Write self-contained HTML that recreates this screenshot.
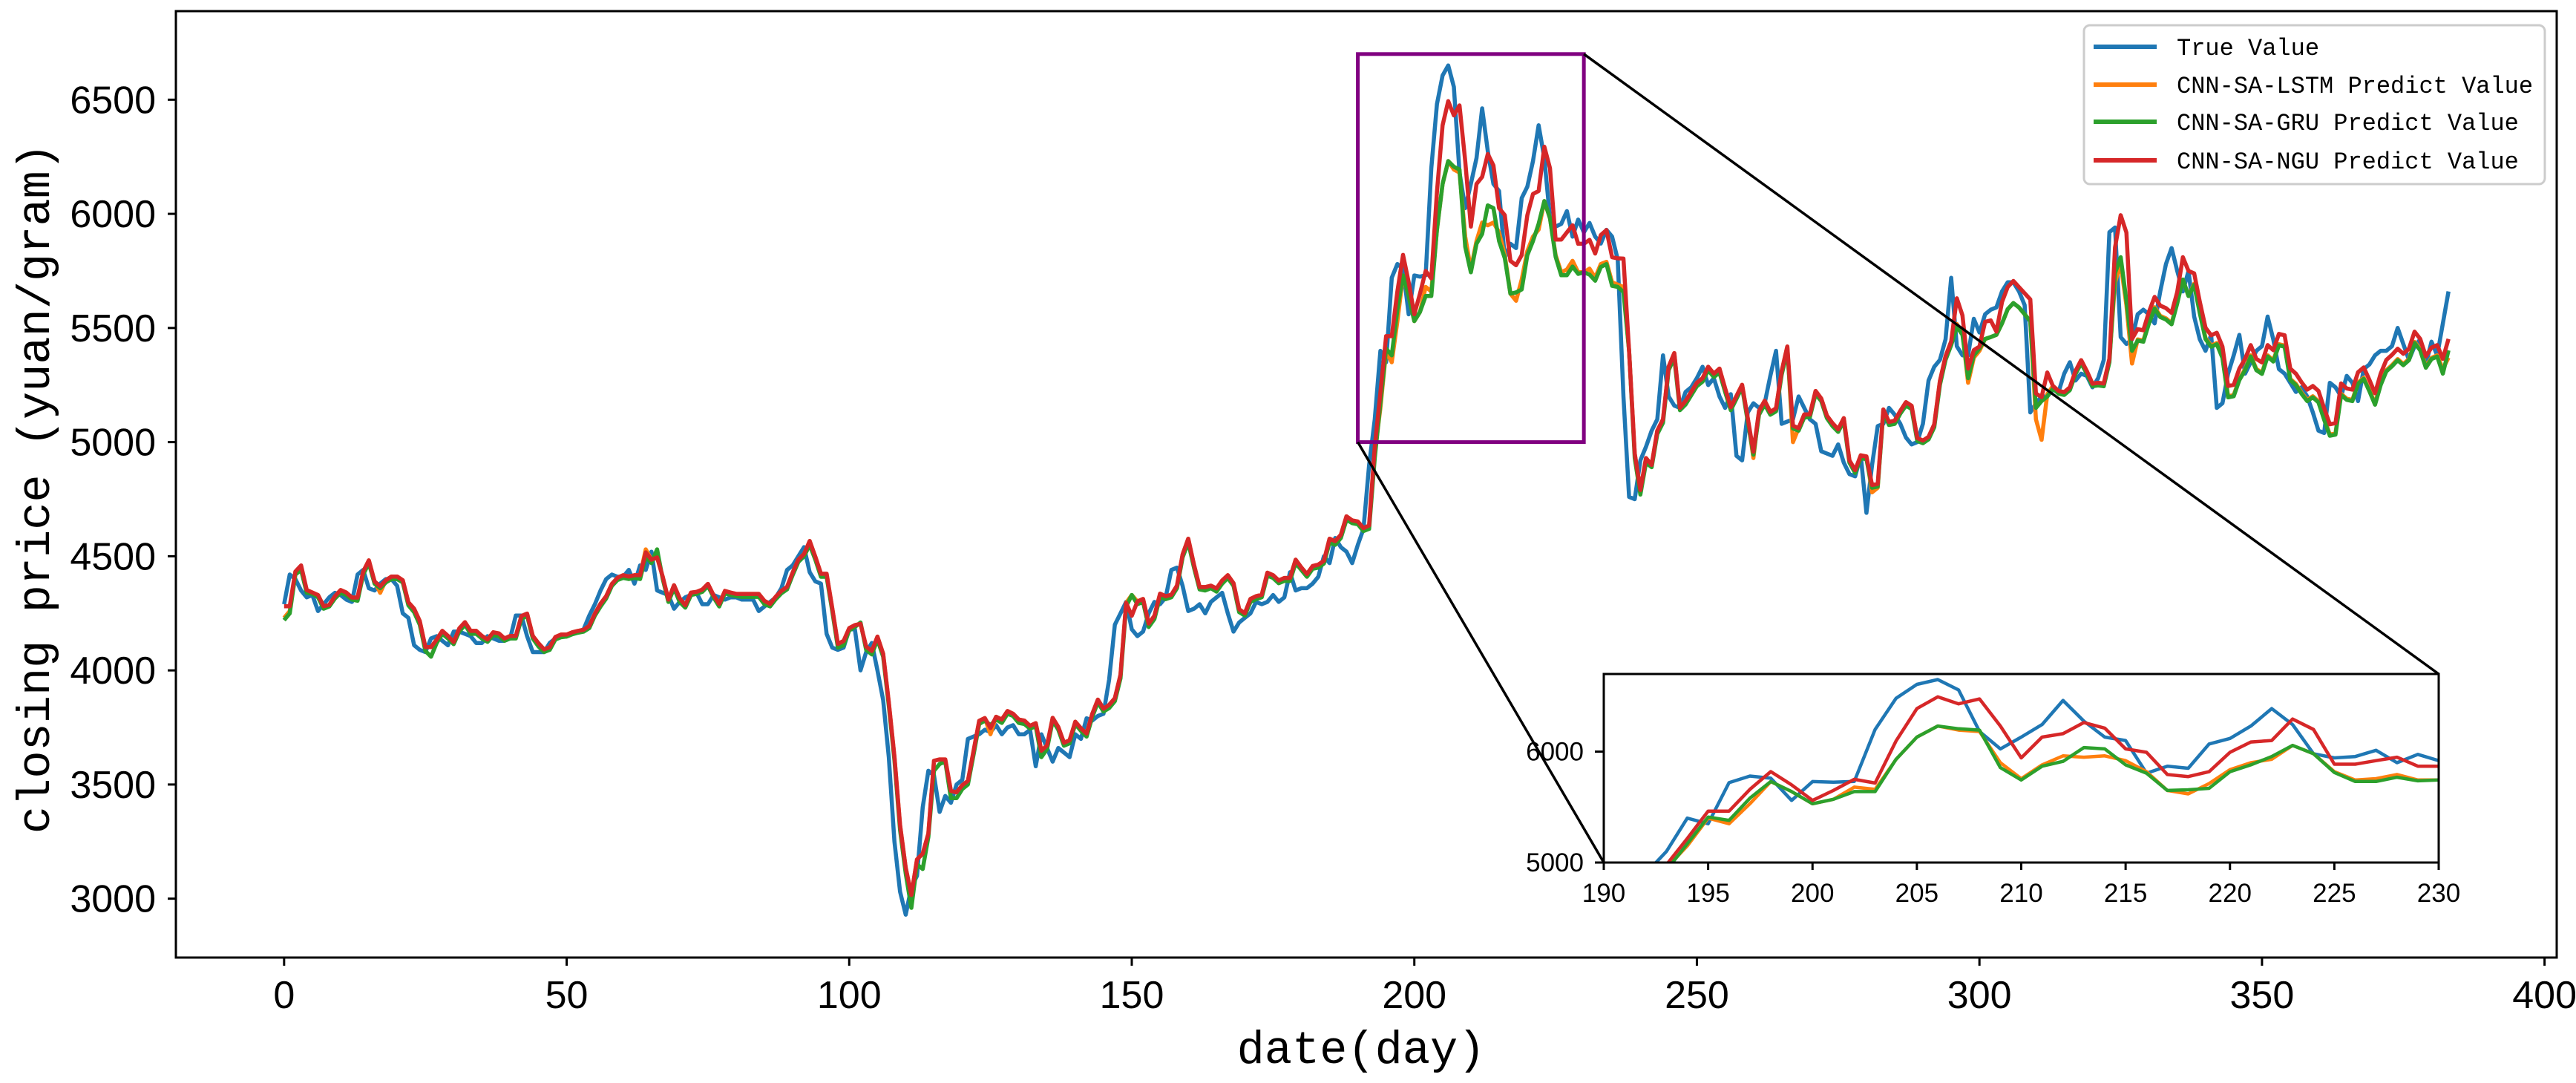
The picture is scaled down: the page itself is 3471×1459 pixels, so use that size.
<!DOCTYPE html>
<html><head><meta charset="utf-8"><style>
html,body{margin:0;padding:0;background:#fff;}
svg{display:block;}
text{font-family:"Liberation Sans","DejaVu Sans",sans-serif;fill:#000;}
.mono{font-family:"Liberation Mono","DejaVu Sans Mono",monospace;}
</style></head><body>
<svg id="chart" xmlns="http://www.w3.org/2000/svg" width="3471" height="1459" viewBox="0 0 3471 1459">
<rect x="0" y="0" width="3471" height="1459" fill="#fff"/>
<defs><clipPath id="mainClip"><rect x="237" y="15" width="3208" height="1275"/></clipPath>
<clipPath id="insetClip"><rect x="2161" y="908" width="1125" height="254"/></clipPath></defs>
<g id="mainSeries" clip-path="url(#mainClip)"></g>
<g id="overlay"></g>
<rect x="2161" y="908" width="1125" height="254" fill="#fff"/>
<g id="insetSeries" clip-path="url(#insetClip)"></g>
<rect x="2161" y="908" width="1125" height="254" fill="none" stroke="#000" stroke-width="3"/>
<g id="axes"></g>
<rect x="237" y="15" width="3208" height="1275" fill="none" stroke="#000" stroke-width="3"/>
<text class="mono" x="0" y="0" font-size="62" text-anchor="middle" transform="translate(66,658) rotate(-90)">closing price (yuan/gram)</text>
<text class="mono" x="1834" y="1432" font-size="62" text-anchor="middle">date(day)</text>
<g>
<rect x="2808" y="34" width="621" height="214" rx="8" fill="#fff" stroke="#cccccc" stroke-width="3"/>
<line x1="2821" y1="63" x2="2906" y2="63" stroke="#1f77b4" stroke-width="6"/>
<text class="mono" x="2933" y="74" font-size="32">True Value</text>
<line x1="2821" y1="114" x2="2906" y2="114" stroke="#ff7f0e" stroke-width="6"/>
<text class="mono" x="2933" y="125" font-size="32">CNN-SA-LSTM Predict Value</text>
<line x1="2821" y1="164" x2="2906" y2="164" stroke="#2ca02c" stroke-width="6"/>
<text class="mono" x="2933" y="175" font-size="32">CNN-SA-GRU Predict Value</text>
<line x1="2821" y1="216" x2="2906" y2="216" stroke="#d62728" stroke-width="6"/>
<text class="mono" x="2933" y="227" font-size="32">CNN-SA-NGU Predict Value</text>
</g>
</svg>
<script>
const xTicks=[0,50,100,150,200,250,300,350,400];
const yTicks=[3000,3500,4000,4500,5000,5500,6000,6500];
const insetXTicks=[190,195,200,205,210,215,220,225,230];
const insetYTicks=[5000,6000];
const zoomBox=[190,230,5000,6700];
const trueValue=[4290,4420,4400,4350,4320,4330,4260,4290,4320,4340,4330,4310,4300,4420,4440,4360,4350,4380,4400,4400,4370,4250,4230,4110,4090,4080,4140,4150,4130,4110,4170,4170,4160,4150,4120,4120,4150,4140,4130,4130,4140,4240,4240,4150,4080,4080,4080,4120,4140,4150,4150,4160,4170,4180,4240,4290,4350,4400,4420,4410,4410,4440,4380,4460,4440,4520,4350,4340,4330,4270,4300,4320,4330,4340,4290,4290,4330,4320,4310,4320,4320,4310,4310,4310,4260,4280,4300,4320,4360,4440,4460,4500,4540,4430,4390,4380,4160,4100,4090,4100,4180,4180,4000,4080,4120,4000,3870,3620,3250,3030,2930,3050,3100,3400,3560,3540,3380,3450,3420,3500,3520,3700,3710,3720,3740,3730,3760,3720,3750,3760,3720,3720,3740,3580,3720,3660,3600,3660,3640,3620,3720,3700,3790,3780,3800,3810,3960,4200,4250,4300,4180,4150,4170,4250,4300,4290,4320,4440,4450,4370,4260,4270,4290,4250,4300,4320,4340,4250,4170,4210,4230,4250,4300,4290,4300,4330,4300,4320,4430,4350,4360,4360,4380,4410,4500,4470,4580,4540,4520,4470,4550,4620,4900,5100,5400,5350,5720,5780,5760,5560,5730,5725,5731,6200,6481,6606,6650,6556,6181,6025,6131,6244,6462,6275,6131,6100,5806,5869,5850,6069,6119,6231,6388,6244,5981,5944,5956,6012,5900,5975,5919,5960,5900,5870,5930,5900,5800,5200,4760,4750,4920,4980,5050,5100,5380,5200,5160,5150,5220,5240,5280,5330,5250,5280,5200,5150,5210,4940,4920,5130,5170,5150,5170,5290,5400,5080,5090,5100,5200,5150,5100,5080,4960,4950,4940,4990,4910,4860,4850,4940,4690,4900,5070,5080,5150,5120,5080,5020,4990,5000,5080,5270,5330,5360,5450,5720,5420,5380,5380,5540,5480,5560,5580,5590,5660,5700,5700,5660,5600,5130,5170,5200,5200,5230,5220,5300,5350,5270,5300,5290,5240,5280,5360,5920,5940,5460,5430,5450,5560,5580,5560,5520,5660,5780,5850,5750,5660,5750,5550,5450,5400,5470,5150,5170,5300,5380,5470,5300,5350,5400,5420,5550,5450,5320,5300,5260,5220,5240,5200,5130,5050,5040,5260,5240,5200,5290,5260,5180,5320,5340,5380,5400,5400,5420,5500,5430,5360,5420,5450,5340,5440,5380,5520,5660];
const lstmValue=[4230,4260,4430,4450,4352,4341,4330,4281,4287,4325,4352,4341,4319,4319,4433,4482,4390,4340,4395,4411,4411,4395,4298,4270,4216,4102,4102,4135,4173,4151,4124,4184,4211,4173,4173,4151,4135,4167,4162,4140,4151,4151,4238,4249,4151,4119,4092,4102,4146,4157,4157,4167,4173,4178,4195,4249,4292,4325,4379,4406,4417,4411,4417,4417,4530,4485,4495,4410,4310,4373,4316,4285,4341,4344,4354,4379,4329,4291,4348,4341,4335,4335,4335,4335,4335,4304,4291,4323,4348,4366,4429,4485,4510,4567,4498,4423,4423,4273,4116,4129,4185,4198,4204,4104,4085,4148,4073,3860,3622,3322,3135,3016,3172,3197,3285,3604,3610,3610,3472,3466,3497,3516,3647,3779,3791,3720,3797,3785,3822,3810,3785,3780,3757,3769,3648,3671,3792,3752,3683,3694,3775,3746,3723,3809,3872,3832,3849,3878,3981,4296,4330,4302,4313,4205,4239,4336,4325,4331,4371,4508,4577,4463,4365,4365,4371,4359,4394,4417,4382,4268,4250,4313,4325,4331,4428,4417,4394,4405,4405,4485,4451,4422,4457,4463,4480,4577,4566,4594,4675,4657,4652,4623,4635,4950,5150,5400,5350,5530,5730,5640,5530,5570,5680,5660,5930,6131,6231,6194,6181,5900,5756,5881,5962,5950,5962,5919,5819,5650,5619,5712,5837,5900,5931,6056,5981,5819,5744,5756,5794,5744,5744,5760,5720,5780,5790,5700,5690,5680,5400,4950,4790,4930,4900,5050,5100,5330,5390,5150,5180,5220,5260,5280,5330,5300,5322,5235,5153,5202,5251,5105,4930,5137,5181,5132,5148,5311,5419,5000,5061,5121,5121,5224,5191,5116,5083,5056,5105,4920,4877,4942,4937,4780,4800,5143,5088,5094,5137,5175,5159,5018,5007,5023,5078,5267,5376,5441,5517,5480,5260,5370,5400,5452,5460,5470,5520,5582,5609,5590,5560,5530,5100,5010,5210,5246,5224,5219,5240,5311,5359,5311,5256,5260,5257,5365,5700,5780,5600,5344,5450,5445,5526,5591,5553,5542,5521,5613,5712,5640,5694,5570,5456,5423,5434,5374,5201,5206,5277,5320,5380,5320,5304,5380,5358,5429,5423,5277,5255,5217,5185,5201,5179,5103,5033,5038,5212,5190,5185,5261,5282,5228,5169,5255,5315,5337,5364,5342,5364,5439,5407,5331,5369,5380,5320,5370];
const gruValue=[4220,4250,4420,4440,4340,4335,4320,4270,4280,4315,4340,4330,4310,4305,4420,4470,4380,4360,4385,4400,4400,4385,4285,4255,4200,4085,4060,4120,4160,4140,4115,4170,4200,4160,4160,4140,4125,4155,4150,4130,4140,4140,4225,4240,4140,4105,4080,4090,4135,4145,4148,4158,4165,4170,4185,4240,4280,4315,4370,4396,4405,4400,4405,4400,4500,4470,4530,4400,4300,4360,4300,4275,4330,4335,4344,4370,4320,4280,4338,4330,4325,4322,4322,4322,4322,4290,4280,4312,4338,4355,4418,4475,4500,4550,4485,4410,4410,4260,4100,4110,4175,4190,4210,4090,4070,4135,4060,3845,3605,3300,3110,2960,3150,3130,3270,3560,3590,3600,3440,3440,3480,3500,3630,3765,3780,3760,3785,3770,3810,3800,3770,3765,3745,3755,3620,3655,3780,3740,3670,3680,3765,3735,3710,3795,3860,3820,3835,3865,3965,4280,4330,4290,4300,4190,4225,4322,4312,4320,4360,4495,4560,4450,4355,4350,4360,4345,4380,4405,4370,4255,4240,4300,4312,4320,4415,4405,4382,4392,4392,4470,4440,4410,4445,4450,4468,4560,4550,4580,4660,4645,4640,4610,4620,4930,5170,5410,5380,5580,5730,5640,5530,5570,5640,5640,5931,6131,6231,6206,6194,5856,5744,5869,5912,6037,6025,5881,5806,5650,5656,5669,5819,5881,5956,6056,5981,5812,5731,5731,5769,5737,5744,5734,5707,5767,5780,5685,5680,5658,5400,4930,4770,4910,4890,5035,5085,5315,5370,5140,5165,5205,5245,5265,5315,5285,5305,5220,5140,5190,5240,5090,4945,5120,5165,5120,5135,5295,5400,5060,5050,5108,5110,5210,5180,5105,5070,5045,5092,4910,4865,4930,4925,4800,4805,5130,5075,5080,5125,5160,5145,5005,4995,5012,5065,5250,5360,5425,5506,5470,5280,5380,5410,5452,5460,5470,5520,5582,5609,5590,5560,5530,5150,5180,5200,5235,5212,5207,5228,5298,5345,5300,5245,5248,5245,5350,5740,5810,5620,5400,5445,5440,5520,5585,5548,5537,5516,5608,5712,5640,5689,5565,5451,5418,5429,5369,5196,5201,5272,5315,5375,5315,5299,5375,5353,5424,5418,5272,5250,5212,5180,5196,5174,5098,5028,5033,5207,5185,5180,5256,5277,5223,5164,5250,5310,5332,5359,5337,5359,5434,5402,5326,5364,5375,5300,5402];
const nguValue=[4281,4281,4433,4460,4352,4341,4330,4281,4287,4325,4352,4341,4319,4319,4433,4482,4390,4368,4395,4411,4411,4395,4298,4270,4216,4102,4102,4135,4173,4151,4124,4184,4211,4173,4173,4151,4135,4167,4162,4140,4151,4151,4238,4249,4151,4119,4092,4102,4146,4157,4157,4167,4173,4178,4195,4249,4292,4325,4379,4406,4417,4411,4417,4417,4517,4485,4495,4410,4310,4373,4316,4285,4341,4344,4354,4379,4329,4291,4348,4341,4335,4335,4335,4335,4335,4304,4291,4323,4348,4366,4429,4485,4510,4567,4498,4423,4423,4273,4116,4129,4185,4198,4204,4104,4085,4148,4073,3860,3622,3322,3135,3016,3172,3197,3285,3604,3610,3610,3472,3466,3497,3516,3647,3779,3791,3747,3797,3785,3822,3810,3785,3780,3757,3769,3648,3671,3792,3752,3683,3694,3775,3746,3723,3809,3872,3832,3849,3878,3981,4296,4239,4302,4313,4205,4239,4336,4325,4331,4371,4508,4577,4463,4365,4365,4371,4359,4394,4417,4382,4268,4250,4313,4325,4331,4428,4417,4394,4405,4405,4485,4451,4422,4457,4463,4480,4577,4566,4594,4675,4657,4652,4623,4635,4980,5217,5464,5464,5660,5820,5700,5560,5650,5750,5717,6096,6388,6494,6431,6475,6231,5944,6131,6162,6262,6212,6025,5994,5794,5775,5819,5994,6087,6100,6294,6200,5887,5887,5919,5950,5869,5869,5886,5826,5907,5929,5810,5805,5804,5400,4950,4790,4930,4900,5050,5100,5330,5390,5150,5180,5220,5260,5280,5330,5300,5322,5235,5153,5202,5251,5105,4958,5137,5181,5132,5148,5311,5419,5072,5061,5121,5121,5224,5191,5116,5083,5056,5105,4920,4877,4942,4937,4812,4817,5143,5088,5094,5137,5175,5159,5018,5007,5023,5078,5267,5376,5441,5630,5555,5322,5403,5419,5527,5533,5484,5614,5679,5706,5679,5652,5625,5213,5197,5305,5246,5224,5219,5240,5311,5359,5311,5256,5260,5257,5365,5853,5994,5918,5452,5495,5490,5571,5636,5598,5587,5566,5658,5810,5750,5739,5615,5501,5468,5479,5419,5246,5251,5322,5365,5425,5365,5349,5425,5403,5474,5468,5322,5300,5262,5230,5246,5224,5148,5078,5083,5257,5235,5230,5306,5327,5273,5214,5300,5360,5382,5409,5387,5409,5484,5452,5376,5414,5425,5365,5452];

const NS='http://www.w3.org/2000/svg';
const X0=237,X1=3445,Y0=1290,Y1=15,XMIN=-19.15,XMAX=402.15,YMIN=2742,YMAX=6888;
function xMain(d){return X0+(d-XMIN)/(XMAX-XMIN)*(X1-X0);}
function yMain(v){return Y0-(v-YMIN)/(YMAX-YMIN)*(Y0-Y1);}
const IX0=2161,IX1=3286,IY0=1162,IY1=908;
function xIn(d){return IX0+(d-zoomBox[0])/(zoomBox[1]-zoomBox[0])*(IX1-IX0);}
function yIn(v){return IY0-(v-zoomBox[2])/(zoomBox[3]-zoomBox[2])*(IY0-IY1);}
function mk(tag,attrs,parent){const e=document.createElementNS(NS,tag);for(const k in attrs)e.setAttribute(k,attrs[k]);parent.appendChild(e);return e;}

const seriesList=[[trueValue,'#1f77b4','true-value'],[lstmValue,'#ff7f0e','cnn-sa-lstm'],[gruValue,'#2ca02c','cnn-sa-gru'],[nguValue,'#d62728','cnn-sa-ngu']];
const gMain=document.getElementById('mainSeries');
const gIn=document.getElementById('insetSeries');
seriesList.forEach(s=>{
  const data=s[0];
  const pts=data.map((v,i)=>xMain(i).toFixed(1)+','+yMain(v).toFixed(1)).join(' ');
  const pl=mk('polyline',{points:pts,fill:'none',stroke:s[1],'stroke-width':5.5,'stroke-linejoin':'round'},gMain);
  
  
  const ip=[];
  for(let i=zoomBox[0]-1;i<=zoomBox[1]+1&&i<data.length;i++){ip.push(xIn(i).toFixed(1)+','+yIn(data[i]).toFixed(1));}
  const pl2=mk('polyline',{points:ip.join(' '),fill:'none',stroke:s[1],'stroke-width':4.5,'stroke-linejoin':'round'},gIn);
  
  
});

const ov=document.getElementById('overlay');
const rx0=xMain(zoomBox[0]),rx1=xMain(zoomBox[1]),ry0=yMain(zoomBox[2]),ry1=yMain(zoomBox[3]);
const zr=mk('rect',{x:rx0,y:ry1,width:rx1-rx0,height:ry0-ry1,fill:'none',stroke:'#800080','stroke-width':5},ov);


const c1=mk('line',{x1:rx0,y1:ry0,x2:IX0,y2:IY0,stroke:'#000','stroke-width':3.5},ov);


const c2=mk('line',{x1:rx1,y1:ry1,x2:IX1,y2:IY1,stroke:'#000','stroke-width':3.5},ov);



const ax=document.getElementById('axes');
xTicks.forEach(t=>{
  const x=xMain(t);
  const tk=mk('line',{x1:x,y1:Y0,x2:x,y2:Y0+11,stroke:'#000','stroke-width':3},ax);
  
  
  const tx=mk('text',{x:x,y:1358,'font-size':52,'text-anchor':'middle'},ax);tx.textContent=t;
  
  
});
yTicks.forEach(t=>{
  const y=yMain(t);
  const tk=mk('line',{x1:X0-11,y1:y,x2:X0,y2:y,stroke:'#000','stroke-width':3},ax);
  
  
  const tx=mk('text',{x:210,y:y+18,'font-size':52,'text-anchor':'end'},ax);tx.textContent=t;
  
  
});
insetXTicks.forEach(t=>{
  const x=xIn(t);
  const tk=mk('line',{x1:x,y1:IY0,x2:x,y2:IY0+10,stroke:'#000','stroke-width':3},ax);
  
  
  const tx=mk('text',{x:x,y:1215,'font-size':35,'text-anchor':'middle'},ax);tx.textContent=t;
  
  
});
insetYTicks.forEach(t=>{
  const y=yIn(t);
  const tk=mk('line',{x1:IX0-12,y1:y,x2:IX0,y2:y,stroke:'#000','stroke-width':3},ax);
  
  
  const tx=mk('text',{x:2134,y:y+12,'font-size':35,'text-anchor':'end'},ax);tx.textContent=t;
  
  
});
</script>
</body></html>
